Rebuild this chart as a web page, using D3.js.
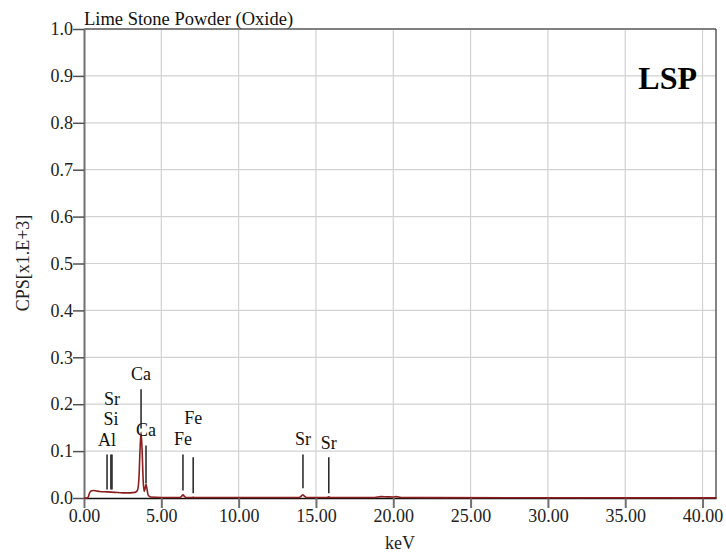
<!DOCTYPE html>
<html>
<head>
<meta charset="utf-8">
<script src="https://cdn.jsdelivr.net/npm/d3@7/dist/d3.min.js"></script>
<style>
  html, body { margin: 0; padding: 0; background: #fff; }
  svg { display: block; }
  svg text { font-family: "Liberation Serif", "Times New Roman", serif; }
</style>
</head>
<body>
<svg id="chart" width="726" height="555"></svg>
<script>
// EDX spectrum of lime stone powder (energy in keV, counts in CPS x 1000)
const energy = [0.00, 0.20, 0.27, 0.35, 0.45, 0.60, 0.80, 1.00, 1.50, 2.00, 2.50, 3.00, 3.30, 3.45, 3.55, 3.62, 3.69, 3.76, 3.83, 3.90, 3.96, 4.01, 4.07, 4.15, 4.30, 5.00, 6.20, 6.32, 6.40, 6.48, 6.60, 7.00, 7.06, 7.12, 13.90, 14.05, 14.15, 14.25, 14.40, 15.70, 15.83, 15.95, 18.80, 19.20, 19.60, 20.00, 20.20, 20.50, 28.00, 40.90];
const cps    = [0.000, 0.000, 0.002, 0.010, 0.015, 0.016, 0.015, 0.014, 0.013, 0.012, 0.011, 0.011, 0.012, 0.016, 0.040, 0.100, 0.140, 0.100, 0.035, 0.014, 0.022, 0.029, 0.020, 0.006, 0.002, 0.001, 0.001, 0.004, 0.007, 0.004, 0.001, 0.001, 0.002, 0.001, 0.001, 0.004, 0.007, 0.004, 0.001, 0.001, 0.0025, 0.001, 0.001, 0.003, 0.0025, 0.002, 0.003, 0.001, 0.0005, 0.0003];

// Identified element lines: energy, symbol, and the CPS levels of the marker stem and its label
const lineEnergy = [1.49, 1.74, 1.81, 3.69, 4.01, 6.40, 7.06, 14.16, 15.83];
const lineLabel  = ["Al", "Si", "Sr", "Ca", "Ca", "Fe", "Fe", "Sr", "Sr"];
const stemTop    = [0.093, 0.093, 0.093, 0.232, 0.112, 0.093, 0.087, 0.093, 0.087];
const stemBottom = [0.018, 0.018, 0.018, 0.148, 0.031, 0.016, 0.010, 0.021, 0.010];
const labelLevel = [0.110, 0.155, 0.198, 0.251, 0.132, 0.112, 0.157, 0.112, 0.104];

const xTicks = [0, 5, 10, 15, 20, 25, 30, 35, 40];
const yTicks = [0, 0.1, 0.2, 0.3, 0.4, 0.5, 0.6, 0.7, 0.8, 0.9, 1.0];

const chartTitle = "Lime Stone Powder (Oxide)";
const sampleCode = "LSP";
const xTitle = "keV";
const yTitle = "CPS[x1.E+3]";

const SERIF = "Liberation Serif, Times New Roman, serif";
const margin = { left: 84, right: 10, top: 29, bottom: 57 };
const W = 726, H = 555;
const svg = d3.select("#chart");

const x = d3.scaleLinear().domain([0, 40.87]).range([margin.left, W - margin.right]);
const y = d3.scaleLinear().domain([0, 1.0]).range([H - margin.bottom, margin.top]);

const x0 = x.range()[0], x1 = x.range()[1], y0 = y.range()[0], y1 = y.range()[1];

// grid
const grid = svg.append("g").attr("stroke", "#d2d2d2").attr("stroke-width", 1.2);
grid.selectAll(".gx").data(xTicks.filter(d => d > 0)).join("line")
  .attr("x1", d => x(d)).attr("x2", d => x(d)).attr("y1", y1).attr("y2", y0);
grid.selectAll(".gy").data(yTicks.filter(d => d > 0 && d < 1)).join("line")
  .attr("x1", x0).attr("x2", x1).attr("y1", d => y(d)).attr("y2", d => y(d));

// frame: top and right borders
svg.append("line").attr("x1", x0).attr("x2", x1).attr("y1", y1).attr("y2", y1)
  .attr("stroke", "#808080").attr("stroke-width", 2);
svg.append("line").attr("x1", x1).attr("x2", x1).attr("y1", y1).attr("y2", y0)
  .attr("stroke", "#333").attr("stroke-width", 1.2);

// x axis
const xAxis = svg.append("g").attr("transform", `translate(0,${y0})`)
  .call(d3.axisBottom(x).tickValues(xTicks).tickFormat(d3.format(".2f")).tickSize(10).tickSizeOuter(0));
xAxis.attr("font-family", SERIF);
xAxis.select(".domain").attr("stroke", "#111").attr("stroke-width", 1.5);
xAxis.selectAll(".tick line").attr("stroke", "#707070").attr("stroke-width", 2);
xAxis.selectAll(".tick text").attr("font-size", 18).attr("fill", "#222").attr("dy", "0.62em")
  .attr("font-family", SERIF);

// y axis
const yAxis = svg.append("g").attr("transform", `translate(${x0},0)`)
  .call(d3.axisLeft(y).tickValues(yTicks).tickFormat(d3.format(".1f")).tickSize(11).tickSizeOuter(0).tickPadding(0));
yAxis.attr("font-family", SERIF);
yAxis.select(".domain").attr("stroke", "#707070").attr("stroke-width", 2);
yAxis.selectAll(".tick line").attr("stroke", "#505050").attr("stroke-width", 1.5);
yAxis.selectAll(".tick text").attr("font-size", 18).attr("fill", "#222").attr("x", -11)
  .attr("font-family", SERIF);

// spectrum
const pts = energy.map((e, i) => [e, cps[i]]);
svg.append("path").datum(pts)
  .attr("fill", "none").attr("stroke", "#8b1f1f").attr("stroke-width", 1.6)
  .attr("stroke-linejoin", "round")
  .attr("d", d3.line().x(d => x(d[0])).y(d => y(d[1])).curve(d3.curveMonotoneX));

// element markers
const markers = svg.append("g");
markers.selectAll("line").data(lineEnergy).join("line")
  .attr("x1", d => x(d)).attr("x2", d => x(d))
  .attr("y1", (d, i) => y(stemTop[i])).attr("y2", (d, i) => y(stemBottom[i]))
  .attr("stroke", "#222").attr("stroke-width", 1.5);
markers.selectAll("text").data(lineEnergy).join("text")
  .attr("x", d => x(d)).attr("y", (d, i) => y(labelLevel[i]))
  .attr("text-anchor", "middle").attr("font-size", 18).attr("fill", "#111")
  .attr("font-family", SERIF)
  .text((d, i) => lineLabel[i]);

// titles
svg.append("text").attr("x", x0).attr("y", 25).attr("font-size", 18.5).attr("fill", "#111")
  .attr("font-family", SERIF).text(chartTitle);
svg.append("text").attr("x", 697).attr("y", 89).attr("text-anchor", "end")
  .attr("font-size", 32).attr("font-weight", "bold").attr("fill", "#000")
  .attr("font-family", SERIF).text(sampleCode);
svg.append("text").attr("x", (x0 + x1) / 2).attr("y", 549).attr("text-anchor", "middle")
  .attr("font-size", 18).attr("fill", "#222").attr("font-family", SERIF).text(xTitle);
svg.append("text").attr("transform", `translate(29,263) rotate(-90)`).attr("text-anchor", "middle")
  .attr("font-size", 18).attr("fill", "#222").attr("font-family", SERIF).text(yTitle);
</script>
</body>
</html>
